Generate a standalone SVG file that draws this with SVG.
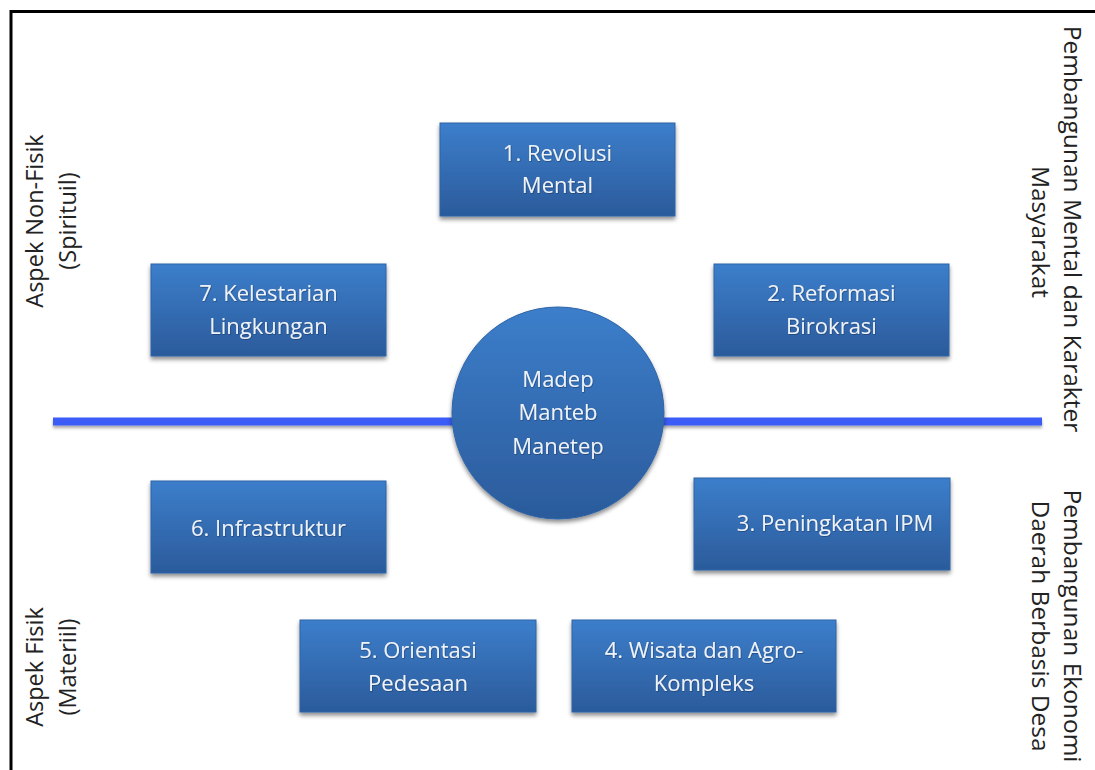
<svg xmlns="http://www.w3.org/2000/svg" width="1095" height="770" viewBox="0 0 1095 770">
  <defs>
    <linearGradient id="boxGrad" x1="0" y1="0" x2="0" y2="1">
      <stop offset="0" stop-color="#3c7ecb"/>
      <stop offset="1" stop-color="#2b5b9b"/>
    </linearGradient>
    <filter id="shadow" x="-10%" y="-10%" width="120%" height="130%">
      <feDropShadow dx="0" dy="3" stdDeviation="2" flood-color="#000" flood-opacity="0.45"/>
    </filter>
    <filter id="lshadow" x="-2%" y="-60%" width="104%" height="260%">
      <feDropShadow dx="0" dy="2.5" stdDeviation="1.5" flood-color="#000" flood-opacity="0.35"/>
    </filter>
    <filter id="tshadow" x="-10%" y="-20%" width="120%" height="140%">
      <feDropShadow dx="0.6" dy="0.8" stdDeviation="0.6" flood-color="#0b2a55" flood-opacity="0.6"/>
    </filter>
  </defs>
  <style>
    .box { fill: url(#boxGrad); stroke: #2e64a8; stroke-width: 1; filter: url(#shadow); }
    .lbl { font-family: "Open Sans", "Liberation Sans", sans-serif; font-size: 22px; fill: #eef3fa; text-anchor: middle; filter: url(#tshadow); }
    .side { font-family: "Open Sans", "Liberation Sans", sans-serif; font-size: 23.5px; fill: #222; text-anchor: middle; }
    .sideR { font-family: "Open Sans", "Liberation Sans", sans-serif; font-size: 24.5px; fill: #222; text-anchor: middle; }
  </style>
  <rect width="1095" height="770" fill="#ffffff"/>
  <path d="M11 770 V11.5 H1095" fill="none" stroke="#000" stroke-width="3"/>

  <g id="connectors">
    <rect x="53" y="417.5" width="989" height="8" fill="#3a5cf6" filter="url(#lshadow)"/>
  </g>

  <g id="center">
    <circle cx="558" cy="413" r="106" fill="url(#boxGrad)" stroke="#2e64a8" stroke-width="1" filter="url(#shadow)"/>
    <text class="lbl" x="558" y="387">Madep</text>
    <text class="lbl" x="558" y="420">Manteb</text>
    <text class="lbl" x="558" y="454">Manetep</text>
  </g>

  <g id="n1">
    <rect class="box" x="440" y="123" width="235" height="93"/>
    <text class="lbl" x="557.5" y="161">1. Revolusi</text>
    <text class="lbl" x="557.5" y="193">Mental</text>
  </g>
  <g id="n2">
    <rect class="box" x="714" y="264" width="235" height="92"/>
    <text class="lbl" x="831.5" y="301">2. Reformasi</text>
    <text class="lbl" x="831.5" y="334">Birokrasi</text>
  </g>
  <g id="n3">
    <rect class="box" x="694" y="478" width="256" height="92"/>
    <text class="lbl" x="835" y="531">3. Peningkatan IPM</text>
  </g>
  <g id="n4">
    <rect class="box" x="572" y="620" width="264" height="92"/>
    <text class="lbl" x="704" y="658">4. Wisata dan Agro-</text>
    <text class="lbl" x="704" y="691">Kompleks</text>
  </g>
  <g id="n5">
    <rect class="box" x="300" y="620" width="236" height="92"/>
    <text class="lbl" x="418" y="658">5. Orientasi</text>
    <text class="lbl" x="418" y="691">Pedesaan</text>
  </g>
  <g id="n6">
    <rect class="box" x="151" y="481" width="235" height="92"/>
    <text class="lbl" x="268.5" y="536">6. Infrastruktur</text>
  </g>
  <g id="n7">
    <rect class="box" x="151" y="264" width="235" height="92"/>
    <text class="lbl" x="268.5" y="301">7. Kelestarian</text>
    <text class="lbl" x="268.5" y="334">Lingkungan</text>
  </g>

  <g id="side-left-top">
    <text class="side" transform="translate(43,221) rotate(-90)">Aspek Non-Fisik</text>
    <text class="side" transform="translate(76,221) rotate(-90)">(Spirituil)</text>
  </g>
  <g id="side-left-bottom">
    <text class="side" transform="translate(43,667) rotate(-90)">Aspek Fisik</text>
    <text class="side" transform="translate(76,667) rotate(-90)">(Materiil)</text>
  </g>
  <g id="side-right-top">
    <text class="sideR" transform="translate(1064,229) rotate(90)">Pembangunan Mental dan Karakter</text>
    <text class="sideR" transform="translate(1032,232) rotate(90)">Masyarakat</text>
  </g>
  <g id="side-right-bottom">
    <text class="sideR" transform="translate(1064,626) rotate(90)">Pembangunan Ekonomi</text>
    <text class="sideR" transform="translate(1032,626) rotate(90)">Daerah Berbasis Desa</text>
  </g>
</svg>
